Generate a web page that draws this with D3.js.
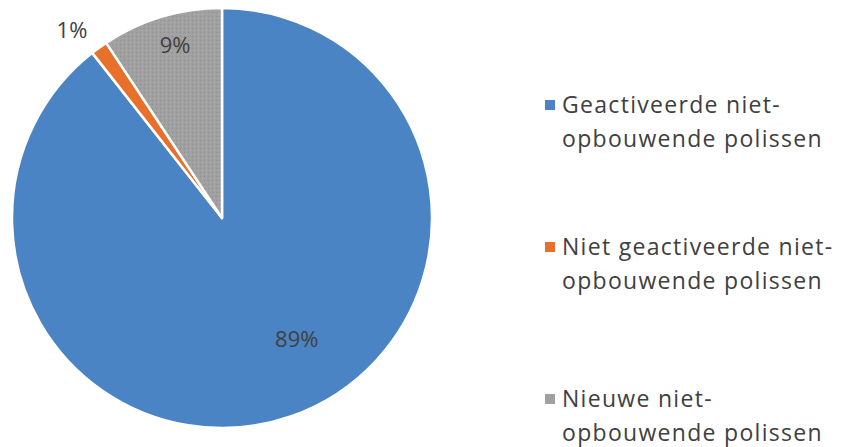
<!DOCTYPE html>
<html lang="nl">
<head>
<meta charset="utf-8">
<title>polissen</title>
<script src="https://cdn.jsdelivr.net/npm/d3@7"></script>
<style>
  body { margin: 0; background: #fff; }
  text { font-family: "Open Sans", "Noto Sans", sans-serif; fill: #404040; }
</style>
</head>
<body>
<script>
// data
var categories = ["Geactiveerde niet-opbouwende polissen", "Niet geactiveerde niet-opbouwende polissen", "Nieuwe niet-opbouwende polissen"];
var legendLines = [["Geactiveerde niet-", "opbouwende polissen"], ["Niet geactiveerde niet-", "opbouwende polissen"], ["Nieuwe niet-", "opbouwende polissen"]];
var values = [89.4, 1.3, 9.3];
var labels = ["89%", "1%", "9%"];
var colors = ["#4a84c4", "#e8702a", "#a0a0a0"];

var w = 852, h = 447;
var cx = 222, cy = 218, r = 210;

var svg = d3.select("body").append("svg")
  .attr("width", w)
  .attr("height", h);

// light speckle texture for the grey slice
var defs = svg.append("defs");
var pat = defs.append("pattern")
  .attr("id", "grain")
  .attr("width", 4).attr("height", 4)
  .attr("patternUnits", "userSpaceOnUse");
pat.append("rect").attr("width", 4).attr("height", 4).attr("fill", colors[2]);
pat.append("rect").attr("x", 0).attr("y", 0).attr("width", 1).attr("height", 1).attr("fill", "#b0b0b0");
pat.append("rect").attr("x", 2).attr("y", 2).attr("width", 1).attr("height", 1).attr("fill", "#909090");

var pie = d3.pie().sort(null).value(function(d) { return d; });
var arcs = pie(values);
var arc = d3.arc().innerRadius(0).outerRadius(r);

var g = svg.append("g").attr("transform", "translate(" + cx + "," + cy + ")");

g.selectAll("path")
  .data(arcs)
  .enter()
  .append("path")
  .attr("d", arc)
  .attr("fill", function(d, i) { return i == 2 ? "url(#grain)" : colors[i]; })
  .attr("stroke", "#fff")
  .attr("stroke-width", 2.5)
  .attr("stroke-linejoin", "round");

// percentage labels (best-fit style): radius factor and angle shift in degrees
var labelRadius = [0.68, 1.145, 0.85];
var labelShift = [-12.5, -2.8, 1.5];
g.selectAll("text.lbl")
  .data(arcs)
  .enter()
  .append("text")
  .attr("class", "lbl")
  .attr("transform", function(d, i) {
    var a = (d.startAngle + d.endAngle) / 2 + labelShift[i] * Math.PI / 180;
    var rr = r * labelRadius[i];
    return "translate(" + (Math.sin(a) * rr) + "," + (-Math.cos(a) * rr) + ")";
  })
  .attr("text-anchor", "middle")
  .attr("dy", "0.35em")
  .style("font-size", "22px")
  .text(function(d, i) { return labels[i]; });

// legend
var legendTop = [105, 247, 399];
var leg = svg.selectAll("g.leg")
  .data(legendLines)
  .enter()
  .append("g")
  .attr("class", "leg")
  .attr("transform", function(d, i) { return "translate(545," + legendTop[i] + ")"; });

leg.append("rect")
  .attr("x", 0).attr("y", -5)
  .attr("width", 10).attr("height", 10)
  .attr("fill", function(d, i) { return colors[i]; });

leg.each(function(lines) {
  var t = d3.select(this);
  lines.forEach(function(s, j) {
    t.append("text")
      .attr("x", 17)
      .attr("y", j * 34)
      .attr("dy", "0.35em")
      .style("font-size", "23px")
      .style("letter-spacing", "1.3px")
      .text(s);
  });
});
</script>
</body>
</html>
